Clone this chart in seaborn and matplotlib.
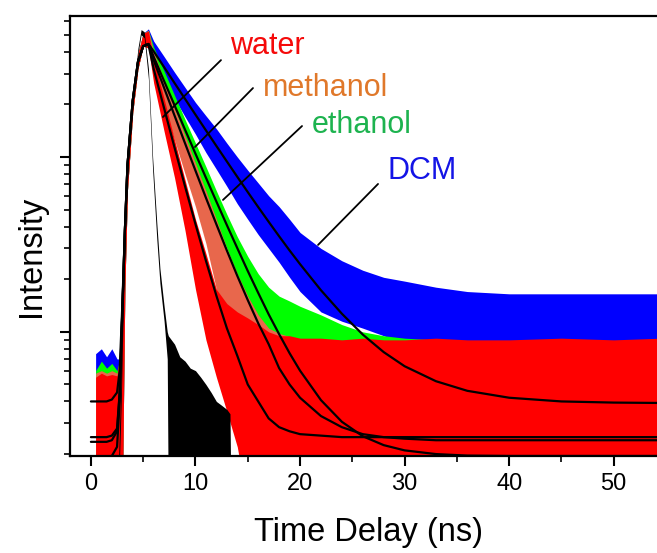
import matplotlib
matplotlib.use('Agg')

import numpy as np
import pandas as pd
import matplotlib.pyplot as plt
from matplotlib.ticker import LogLocator, NullFormatter, MultipleLocator
import seaborn as sns

# ========== DATA (counts vs ns) ==========
nan = np.nan
t_ns = [0, 0.45, 1, 1.5, 2, 2.5, 2.75, 3.0, 3.25, 3.5, 4.0, 4.5, 5.0,
        5.5, 6, 7, 8, 9, 10, 11, 12, 13, 14, 15, 16, 17, 18, 19, 20,
        22, 24, 26, 28, 30, 33, 36, 40, 45, 50, 54.5]

# shared rising edge of the measured traces (t = 2.75 ... 5.0)
rise_hi = [70, 120, 420, 1000, 2300, 3900, 5100]
rise_lo = [10, 10, 180, 650, 1800, 3200, 4300]

# upper / lower envelopes of the noisy traces
dcm_hi = [nan, 75, 80, 72, 80, 70] + rise_hi + [
    5400, 4600, 3750, 3050, 2500, 2050, 1720, 1450, 1200, 1000, 840, 710, 600,
    520, 440, 370, 300, 255, 225, 205, 195, 180, 170, 165, 165, 165, 165]
dcm_lo = [nan, 10, 10, 10, 10, 10] + rise_lo + [
    4300, 3550, 2750, 2150, 1700, 1350, 1060, 850, 680, 540, 440, 360, 300,
    250, 205, 170, 130, 115, 105, 95, 85, 78, 75, 75, 75, 75, 75]

eth_hi = [nan, 60, 68, 62, 66, 60] + rise_hi + [
    5300, 4250, 3100, 2250, 1640, 1200, 880, 640, 470, 350, 270, 215, 180,
    160, 150, 140, 125, 110, 100, 95, 92, 90, 88, 88, 88, 88, 88]
eth_lo = [nan, 10, 10, 10, 10, 10] + rise_lo + [
    4300, 3300, 2300, 1650, 1180, 840, 600, 420, 300, 210, 150, 105, 75,
    50, 30, 15, 10, 10, 10, 10, 10, 10, 10, 10, 10, 10, 10]

meoh_hi = [nan, 58, 60, 58, 60, 58] + rise_hi + [
    5300, 4000, 2750, 1900, 1320, 920, 640, 440, 300, 215, 160, 125, 105,
    98, 94, 90, 88, 88, 88, 88, 88, 88, 88, 88, 88, 88, 88]
meoh_lo = [nan, 10, 10, 10, 10, 10] + rise_lo + [
    4250, 3050, 1950, 1250, 800, 520, 320, 175, 100, 55, 25, 10, 10,
    10, 10, 10, 10, 10, 10, 10, 10, 10, 10, 10, 10, 10, 10]

water_hi = [nan, 55, 58, 56, 57, 56] + rise_hi + [
    5250, 3650, 2150, 1250, 740, 440, 280, 175, 145, 130, 120, 110, 100,
    95, 95, 92, 92, 90, 92, 90, 90, 92, 90, 90, 92, 90, 92]
water_lo = [nan, 10, 10, 10, 10, 10] + rise_lo + [
    4200, 2650, 1400, 760, 380, 175, 90, 55, 35, 22, 10, 10, 10,
    10, 10, 10, 10, 10, 10, 10, 10, 10, 10, 10, 10, 10, 10]

# instrument response (black)
irf_t = [2.6, 2.9, 3.1, 3.3, 3.5, 4.0, 4.5, 4.8, 5.1, 5.5, 5.9, 6.3, 6.6,
         7.0, 7.3, 7.4, 8, 8.5, 9, 9.5, 10, 10.5, 11, 11.5, 12, 12.5, 13,
         13.3, 13.4]
irf_hi = [15, 60, 180, 450, 900, 2200, 4200, 5350, 5200, 3200, 1000, 420,
          230, 140, 100, 95, 85, 72, 68, 62, 60, 55, 50, 45, 40, 38, 36, 34, 10]
irf_lo = [10, 40, 140, 380, 800, 2000, 3900, 5000, 4800, 2800, 850, 340,
          190, 115, 70, 10, 10, 10, 10, 10, 10, 10, 10, 10, 10, 10, 10, 10, 10]

# fitted curves
fit_rise = [380, 900, 2100, 3500, 4300]   # t = 3.25 ... 5.0
water_fit = [25, 25, 25, 25, 25.5, 28, 45, 130] + fit_rise + [
    4400, 3190, 1900, 1130, 680, 413, 255, 161, 105, 73, 50, 40, 32, 28.5,
    27, 26, 25.5, 25, 25, 25, 25, 25, 25, 25, 25, 25, 25]
meoh_fit = [23.5, 23.5, 23.5, 23.5, 24, 27, 44, 130] + fit_rise + [
    4420, 3585, 2485, 1723, 1198, 835, 584, 412, 292, 209, 152, 112, 85, 62,
    50, 42, 33, 28.5, 26, 25, 24.5, 24, 24, 24, 24, 24, 24]
eth_fit = [19, 19, 19, 19, 19.5, 22, 40, 125] + fit_rise + [
    4430, 3745, 2717, 1973, 1434, 1044, 761, 556, 408, 301, 223, 167, 126, 97,
    75.5, 60, 40.7, 30.6, 25.3, 22.5, 21, 20, 19.6, 19.5, 19.5, 19.5, 19.5]
dcm_fit = [40, 40, 40, 40, 41, 45, 60, 140] + fit_rise + [
    4430, 4023, 3263, 2647, 2149, 1746, 1420, 1156, 943, 770, 630, 517, 426,
    352, 292, 244, 173, 127, 96.5, 76.6, 63.6, 52.2, 46, 42, 40, 39.4, 39.2]

# labels: (text, colour, x, y) and pointer lines (x0, y0, x1, y1)
labels = ['water', 'methanol', 'ethanol', 'DCM']
label_colors = ['#F50A0A', '#E0782A', '#1DB34F', '#1414E6']
label_xy = [(13.3, 4300), (16.45, 2480), (21.1, 1524), (28.4, 832)]
pointers = [(12.44, 3580, 6.89, 1693), (15.5, 2478, 9.95, 1140),
            (20.19, 1503, 12.63, 568), (27.46, 701, 21.72, 314)]

# ========== PLOT ==========
sns.set_theme(style="ticks")
plt.rcParams['font.family'] = ['Liberation Sans', 'DejaVu Sans']
plt.rcParams['text.color'] = 'black'
plt.rcParams['axes.labelcolor'] = 'black'
plt.rcParams['xtick.color'] = 'black'
plt.rcParams['ytick.color'] = 'black'

fig = plt.figure(figsize=(6.57, 5.53), dpi=100)
ax = fig.add_axes([70/657, 1-456/553, 596/657, 440/553])
ax.set_yscale('log')

traces = [(dcm_lo, dcm_hi, '#0000FF'), (eth_lo, eth_hi, '#00FF00'),
          (meoh_lo, meoh_hi, '#E8674C'), (water_lo, water_hi, '#FF0000')]
for lo, hi, col in traces:
    ax.fill_between(t_ns, lo, hi, color=col, lw=0)
ax.fill_between(irf_t, irf_lo, irf_hi, color='black', lw=0)

fits = pd.DataFrame({'t': t_ns * 4,
                     'counts': water_fit + meoh_fit + eth_fit + dcm_fit,
                     'solvent': sum([[s] * len(t_ns) for s in labels], [])})
sns.lineplot(data=fits, x='t', y='counts', units='solvent', estimator=None,
             color='black', lw=1.6, ax=ax)

for (x0, y0, x1, y1) in pointers:
    ax.plot([x0, x1], [y0, y1], color='black', lw=1.3)
for txt, col, (x, y) in zip(labels, label_colors, label_xy):
    ax.text(x, y, txt, color=col, fontsize=22, va='center', ha='left')

ax.set_xlim(-2, 55)
ax.set_ylim(19.5, 6400)
ax.xaxis.set_major_locator(MultipleLocator(10))
ax.xaxis.set_minor_locator(MultipleLocator(5))
ax.yaxis.set_major_locator(LogLocator(base=10))
ax.yaxis.set_minor_locator(LogLocator(base=10, subs=np.arange(2, 10)))
ax.yaxis.set_major_formatter(NullFormatter())
ax.yaxis.set_minor_formatter(NullFormatter())
ax.tick_params(which='major', direction='out', length=7, width=1.5,
               labelsize=17, pad=5, color='black', labelcolor='black')
ax.tick_params(which='minor', direction='out', length=4.5, width=1.2,
               color='black')
for side in ['left', 'bottom', 'top', 'right']:
    ax.spines[side].set_linewidth(1.6)
    ax.spines[side].set_color('black')

ax.set_xlabel('Time Delay (ns)', fontsize=23.5)
ax.set_ylabel('Intensity', fontsize=23.5)
ax.xaxis.set_label_coords((369 - 70) / 596, -(517 - 456) / 440)
ax.yaxis.set_label_coords(-(70 - 47) / 596, (456 - 256) / 440)

fig.savefig('out.png', dpi=100)
